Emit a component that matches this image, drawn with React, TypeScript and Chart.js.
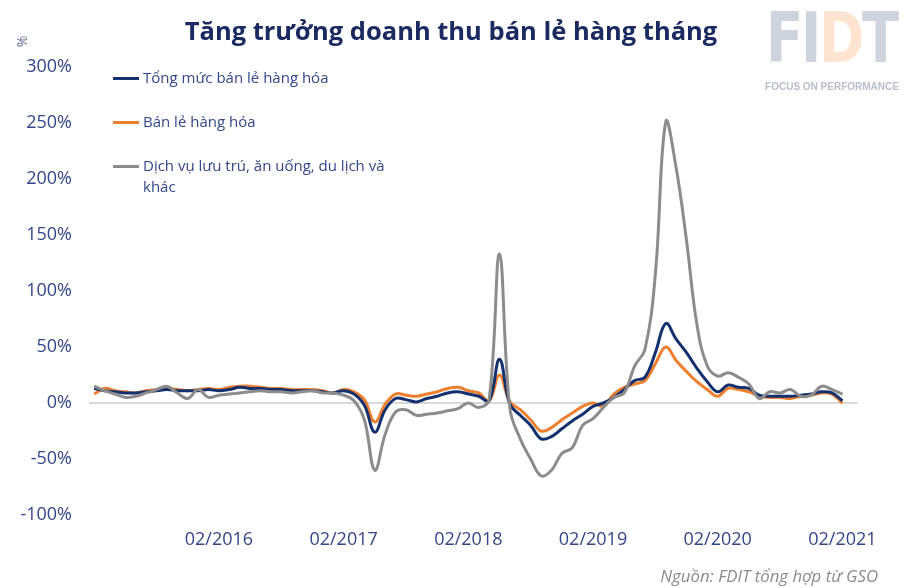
import React, { useEffect, useRef } from "react";
import { Chart, registerables } from "chart.js";

Chart.register(...registerables);

const TITLE = "Tăng trưởng doanh thu bán lẻ hàng tháng";
const SOURCE = "Nguồn: FDIT tổng hợp từ GSO";
const Y_UNIT = "%";

const SERIES_NAMES = [
  "Tổng mức bán lẻ hàng hóa",
  "Bán lẻ hàng hóa",
  "Dịch vụ lưu trú, ăn uống, du lịch và khác",
];
const SERIES_COLORS = ["#13306f", "#ee7f2f", "#8c8c8c"];

// Monthly categories 02/2015 .. 03/2021 (last one is an empty slot)
const FIRST_YEAR = 2015;
const FIRST_MONTH = 2;
const N_MONTHS = 74;
const MONTHS: string[] = Array.from({ length: N_MONTHS }, (_, i) => {
  const m = ((FIRST_MONTH - 1 + i) % 12) + 1;
  const y = FIRST_YEAR + Math.floor((FIRST_MONTH - 1 + i) / 12);
  return String(m).padStart(2, "0") + "/" + y;
});

const X_TICK_LABELS = ["02/2016", "02/2017", "02/2018", "02/2019", "02/2020", "02/2021"];
const Y_MIN = -100;
const Y_MAX = 300;
const Y_STEP = 50;

// Tổng mức bán lẻ hàng hóa (%)
const TOTAL = [
  13, 11, 10, 9, 9, 10, 11, 12, 11, 11, 11, 12,
  11, 12, 14, 13, 13, 12, 12, 11, 11, 11, 10, 9,
  11, 8, -2, -26, -6, 4, 3, 1, 4, 6, 9, 10,
  8, 6, 2, 39, -1, -11, -20, -32, -30, -23, -16, -10,
  -3, 0, 5, 12, 20, 23, 45, 71, 57, 45, 31, 19,
  10, 16, 14, 13, 7, 6, 6, 6, 7, 8, 10, 9,
  2, null,
];

// Bán lẻ hàng hóa (%)
const GOODS = [
  8, 13, 11, 10, 9, 11, 12, 13, 12, 11, 12, 13,
  12, 14, 15, 15, 14, 13, 13, 12, 12, 12, 11, 9,
  12, 10, 3, -17, -1, 8, 7, 6, 8, 10, 13, 14,
  11, 9, 2, 25, 1, -6, -15, -25, -22, -15, -9, -3,
  0, -3, 8, 14, 17, 20, 35, 50, 38, 28, 19, 12,
  6, 13, 12, 10, 6, 5, 5, 4, 6, 7, 9, 8,
  0, null,
];

// Dịch vụ lưu trú, ăn uống, du lịch và khác (%)
const SERVICES = [
  15, 11, 8, 5, 6, 9, 12, 15, 9, 4, 12, 5,
  7, 8, 9, 10, 11, 10, 10, 9, 10, 11, 9, 9,
  7, 2, -15, -60, -28, -8, -6, -11, -10, -9, -7, -5,
  0, -4, 3, 133, -5, -32, -50, -65, -60, -45, -40, -20,
  -14, -4, 5, 9, 33, 48, 115, 251, 210, 145, 70, 33,
  24, 27, 23, 17, 4, 10, 9, 12, 6, 7, 15, 12,
  8, null,
];

const SERIES_DATA = [TOTAL, GOODS, SERVICES];
const DRAW_ORDER = [1, 2, 0];

const TEXT_BLUE = "#34468a";
const FONT = "'Open Sans', 'Noto Sans', sans-serif";

export default function App() {
  const canvasRef = useRef<HTMLCanvasElement | null>(null);

  useEffect(() => {
    if (!canvasRef.current) return;
    const chart = new Chart(canvasRef.current, {
      type: "line",
      data: {
        labels: MONTHS,
        datasets: SERIES_NAMES.map((name, k) => ({
          label: name,
          data: SERIES_DATA[k],
          borderColor: SERIES_COLORS[k],
          backgroundColor: SERIES_COLORS[k],
          borderWidth: 3,
          pointRadius: 0,
          tension: 0.4,
          fill: false,
          order: DRAW_ORDER[k],
        })),
      },
      options: {
        responsive: false,
        animation: false,
        layout: { padding: { top: 67, right: 54, bottom: 0, left: 0 } },
        plugins: {
          legend: { display: false },
          title: { display: false },
          tooltip: { enabled: false },
        },
        scales: {
          x: {
            type: "category",
            offset: true,
            grid: { display: false, drawTicks: false },
            border: { display: false },
            ticks: {
              autoSkip: false,
              maxRotation: 0,
              minRotation: 0,
              padding: 14,
              color: TEXT_BLUE,
              font: { family: FONT, size: 18 },
              callback: function (this: any, value: any) {
                const lbl = this.getLabelForValue(value);
                return X_TICK_LABELS.includes(lbl) ? lbl : "";
              },
            },
            afterFit: (scale: any) => {
              scale.height = 73;
            },
          },
          y: {
            min: Y_MIN,
            max: Y_MAX,
            grid: {
              drawTicks: false,
              lineWidth: 2,
              color: (ctx: any) => (ctx.tick && ctx.tick.value === 0 ? "#d9d9d9" : "rgba(0,0,0,0)"),
            },
            border: { display: false },
            ticks: {
              stepSize: Y_STEP,
              padding: 17,
              color: TEXT_BLUE,
              font: { family: FONT, size: 18 },
              callback: (v: any) => v + "%",
            },
            afterFit: (scale: any) => {
              scale.width = 89;
            },
          },
        },
      },
    });
    return () => chart.destroy();
  }, []);

  return (
    <div
      style={{
        position: "fixed",
        left: 0,
        top: 0,
        width: 912,
        height: 588,
        background: "#ffffff",
        overflow: "hidden",
        fontFamily: FONT,
      }}
    >
      <canvas
        ref={canvasRef}
        width={912}
        height={588}
        style={{ position: "absolute", left: 0, top: 0, width: 912, height: 588 }}
      />
      <div
        style={{
          position: "absolute",
          left: 0,
          width: 902,
          top: 13,
          textAlign: "center",
          fontSize: 25.5,
          fontWeight: 700,
          color: "#1b2b62",
          whiteSpace: "nowrap",
        }}
      >
        {TITLE}
      </div>
      <div
        style={{
          position: "absolute",
          left: 16,
          top: 32,
          fontSize: 14,
          color: "#5a6898",
          transform: "rotate(-90deg)",
        }}
      >
        {Y_UNIT}
      </div>
      {SERIES_NAMES.map((name, k) => (
        <div
          key={k}
          style={{
            position: "absolute",
            left: 113,
            top: 67 + k * 44,
            width: 300,
            display: "flex",
            alignItems: "flex-start",
          }}
        >
          <div
            style={{
              width: 26,
              height: 3,
              background: SERIES_COLORS[k],
              marginTop: 10,
              flex: "none",
            }}
          />
          <div
            style={{
              marginLeft: 4,
              width: 270,
              fontSize: 15,
              lineHeight: "21px",
              color: TEXT_BLUE,
            }}
          >
            {name}
          </div>
        </div>
      ))}
      <div
        style={{
          position: "absolute",
          left: 766,
          top: 2,
          width: 134,
          fontFamily: "'DejaVu Sans', 'Liberation Sans', sans-serif",
          fontWeight: 700,
          fontSize: 70,
          lineHeight: "72px",
          letterSpacing: -3,
          whiteSpace: "nowrap",
          transform: "scaleX(0.78)",
          transformOrigin: "left top",
          color: "#cdd4de",
        }}
      >
        FI<span style={{ color: "#fde4d0" }}>D</span>T
      </div>
      <div
        style={{
          position: "absolute",
          left: 764,
          top: 81,
          width: 136,
          textAlign: "center",
          fontFamily: "'Liberation Sans', Arial, sans-serif",
          fontWeight: 700,
          fontSize: 10,
          color: "#b7bfcc",
          whiteSpace: "nowrap",
        }}
      >
        FOCUS ON PERFORMANCE
      </div>
      <div
        style={{
          position: "absolute",
          right: 34,
          top: 564,
          fontSize: 16.8,
          fontStyle: "italic",
          color: "#8a8a8a",
          whiteSpace: "nowrap",
        }}
      >
        {SOURCE}
      </div>
    </div>
  );
}
